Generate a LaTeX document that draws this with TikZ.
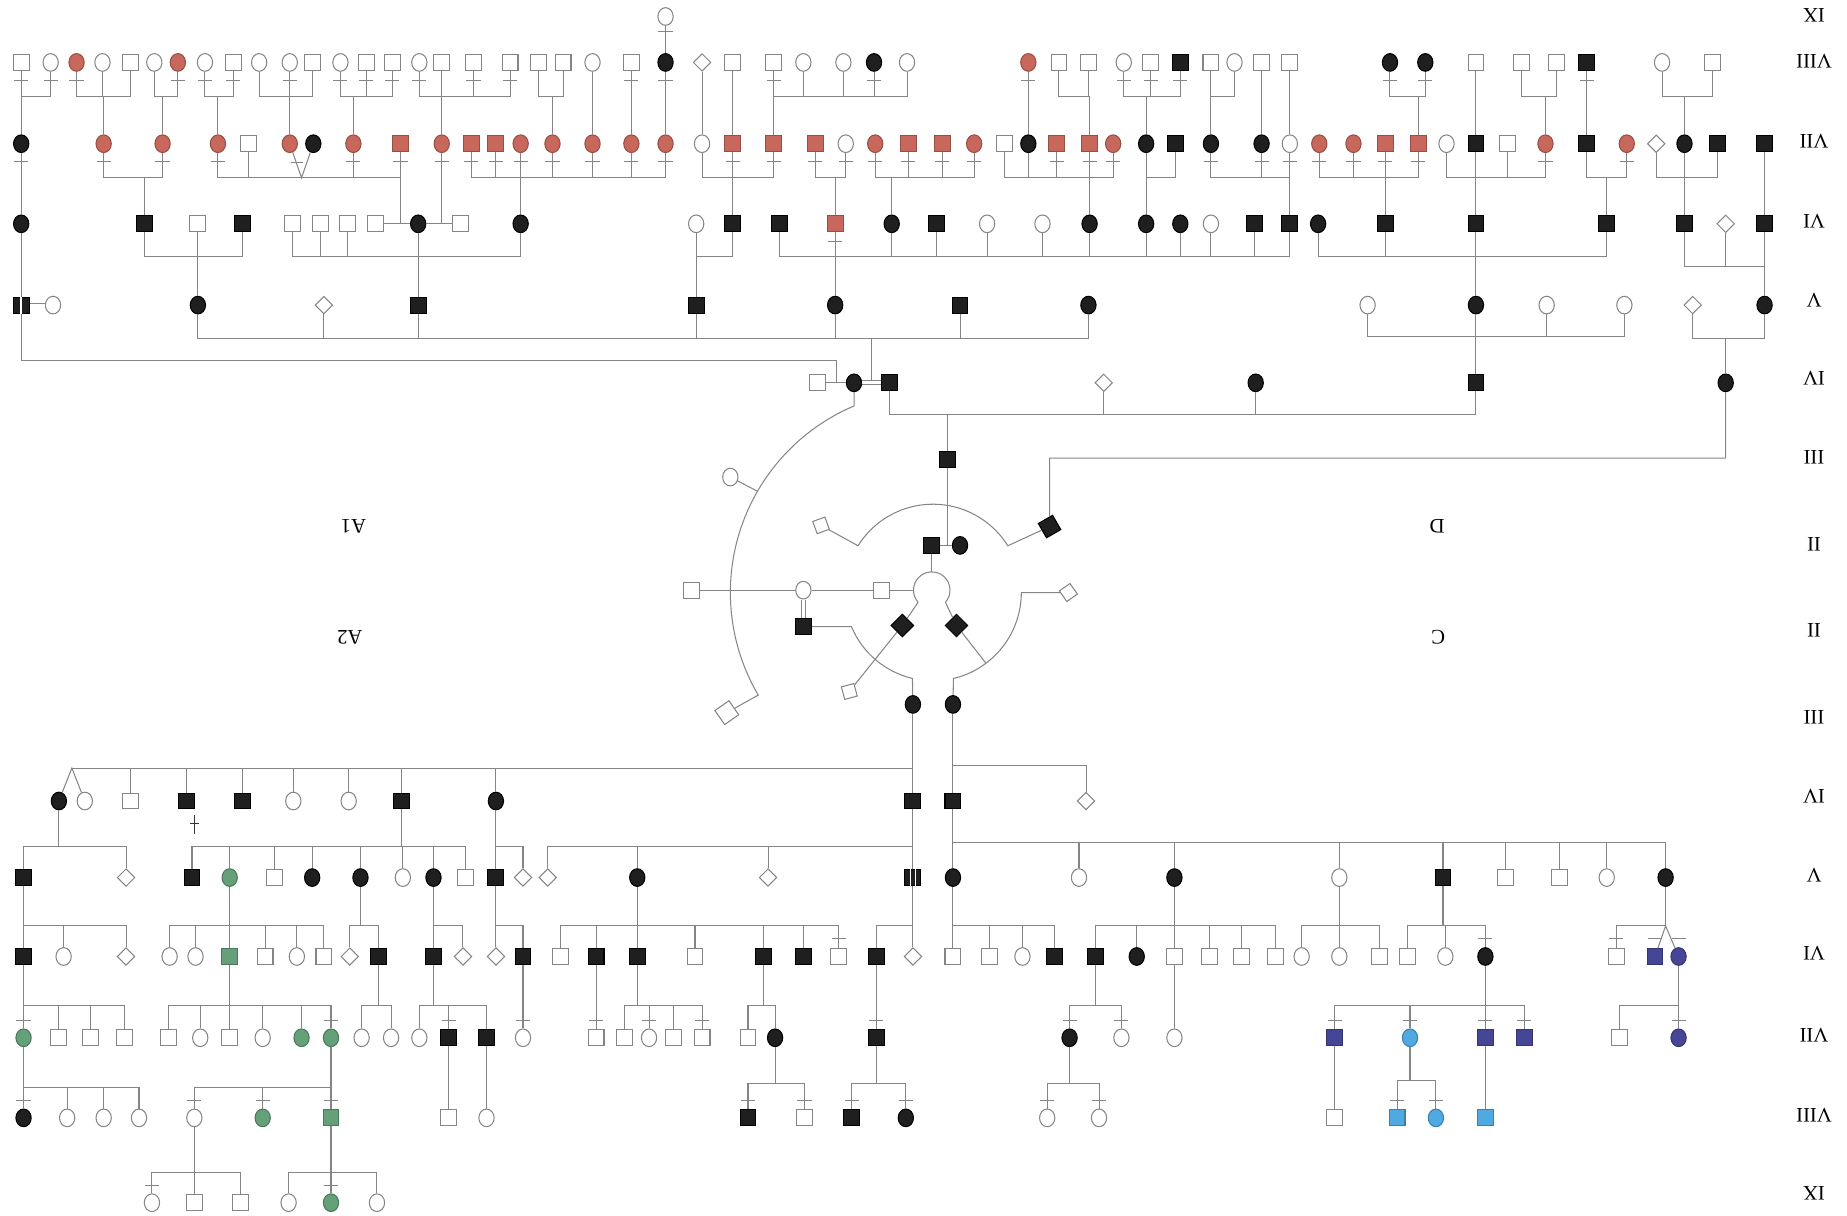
\documentclass[tikz,border=0pt]{standalone}
\usepackage{fontspec}
\setmainfont{Liberation Serif}
\usetikzlibrary{shapes.geometric}
\definecolor{lgray}{HTML}{858585}
\definecolor{redc}{HTML}{C8685C}
\definecolor{grnc}{HTML}{64A078}
\definecolor{navc}{HTML}{464696}
\definecolor{lblc}{HTML}{50AAE1}
\tikzstyle{ln} = [draw=lgray, line width=0.5pt]
\tikzstyle{dbl} = [draw=lgray, line width=0.45pt, double=white, double distance=1.4pt]
% sibship: parent, height of the bar, list of children
\newcommand{\sib}[3]{\foreach \kid in {#3}{\draw[ln] (\kid) -- (\kid |- 0,#2) -| (#1);}}

\begin{document}
\begin{tikzpicture}[
        x=0.02cm, y=-0.02cm,
        msh/.style={rectangle, minimum size=2.7mm, inner sep=0pt, line width=0.5pt},
        fsh/.style={ellipse, minimum width=2.6mm, minimum height=3mm, inner sep=0pt, line width=0.5pt},
        mo/.style={msh, draw=lgray, fill=white},
        mk/.style={msh, draw=black, fill=black!88},
        mr/.style={msh, draw=redc!75!black, fill=redc},
        mg/.style={msh, draw=grnc!75!black, fill=grnc},
        mn/.style={msh, draw=navc!75!black, fill=navc},
        ml/.style={msh, draw=lblc!75!black, fill=lblc},
        fo/.style={fsh, draw=lgray, fill=white},
        fk/.style={fsh, draw=black, fill=black!88},
        fr/.style={fsh, draw=redc!75!black, fill=redc},
        fg/.style={fsh, draw=grnc!75!black, fill=grnc},
        fn/.style={fsh, draw=navc!75!black, fill=navc},
        fl/.style={fsh, draw=lblc!75!black, fill=lblc},
        uo/.style={diamond, draw=lgray, fill=white, minimum width=3mm, minimum height=3mm, inner sep=0pt, line width=0.5pt},
        gen/.style={font=\fontsize{10}{12}\selectfont, rotate=180, inner sep=0pt},
    ]
    \useasboundingbox (0,0) rectangle (1568,1032);

    % generations
    \foreach \y/\g [count=\i] in {13/IX,52/VIII,120/VII,188/VI,255/V,321/IV,388/III,462/II,535/II,609/III,676/IV,743/V,809/VI,879/VII,947/VIII,1013/IX}
        \node[gen] (g\i) at (1540,\y) {\g};
    \node[gen] (lA1) at (300,447) {A1};
    \node[gen] (lA2) at (297,541) {A2};
    \node[gen] (lD) at (1220,447) {D};
    \node[gen] (lC) at (1221,541) {C};

    % upper half
    \node[fo] (T9-565) at (565,14) {};
    \foreach \x/\s in {18/mo,43/fo,65/fr,87/fo,111/mo,131/fo,151/fr,174/fo,198/mo,220/fo,246/fo,265/mo,289/fo,311/mo,333/mo,356/fo,375/mo,402/mo,433/mo,457/mo,478/mo,503/fo,536/mo,565/fk,596/uo,622/mo,657/mo,682/fo,716/fo,742/fk,770/fo,873/fr,899/mo,924/mo,954/fo,977/mo,1002/mk,1028/mo,1048/fo,1071/mo,1095/mo,1180/fk,1210/fk,1253/mo,1292/mo,1321/mo,1347/mk,1411/fo,1454/mo}
        \node[\s] (T8-\x) at (\x,53) {};
    \foreach \x/\s in {18/fk,88/fr,138/fr,185/fr,211/mo,246/fr,266/fk,300/fr,340/mr,375/fr,400/mr,421/mr,442/fr,469/fr,503/fr,536/fr,565/fr,596/fo,622/mr,657/mr,692/mr,718/fo,743/fr,771/mr,800/mr,827/fr,853/mo,873/fk,897/mr,925/mr,945/fr,973/fk,998/mk,1028/fk,1071/fk,1095/fo,1120/fr,1149/fr,1176/mr,1204/mr,1228/fo,1253/mk,1280/mo,1312/fr,1347/mk,1381/fr,1406/uo,1430/fk,1458/mk,1498/mk}
        \node[\s] (T7-\x) at (\x,122) {};
    \foreach \x/\s in {18/fk,123/mk,168/mo,206/mk,248/mo,272/mo,295/mo,319/mo,355/fk,391/mo,442/fk,591/fo,622/mk,662/mk,709/mr,757/fk,795/mk,838/fo,885/fo,925/fk,973/fk,1002/fk,1028/fo,1065/mk,1095/mk,1119/fk,1176/mk,1253/mk,1364/mk,1430/mk,1465/uo,1498/mk}
        \node[\s] (T6-\x) at (\x,190) {};
    \foreach \x/\s in {18/mk,45/fo,168/fk,275/uo,355/mk,591/mk,709/fk,815/mk,924/fk,1161/fo,1253/fk,1313/fo,1379/fo,1437/uo,1498/fk}
        \node[\s] (T5-\x) at (\x,259) {};
    \foreach \x/\s in {694/mo,725/fk,755/mk,937/uo,1066/fk,1253/mk,1465/fk}
        \node[\s] (T4-\x) at (\x,325) {};
    \node[mk] (T3-804) at (804,390) {};
    \node[mk] (T2-791) at (791,463) {};
    \node[fk] (T2-815) at (815,463) {};
    \node[mo, rotate=20, minimum size=2.2mm] (T2-697) at (697,446) {};
    \node[mk, rotate=30, minimum size=2.8mm] (T2-891) at (891,447) {};
    \node[fo] (O620) at (620,405) {};

    % centre
    \node[mo] (Z587) at (587,501) {};
    \node[fo] (Z682) at (682,501) {};
    \node[mo] (Z748) at (748,501) {};
    \node[mo, rotate=35, minimum size=2.2mm] (Z907) at (907,503) {};
    \node[mk] (W682) at (682,532) {};
    \node[mk, rotate=45] (W766) at (766,531) {};
    \node[mk, rotate=45] (W812) at (812,531) {};
    \node[mo, rotate=15, minimum size=2.2mm] (Q721) at (721,587) {};
    \node[mo, rotate=35, minimum size=2.9mm] (Q617) at (617,605) {};

    % lower half
    \node[fk] (B3-775) at (775,598) {};
    \node[fk] (B3-809) at (809,598) {};
    \foreach \x/\s in {50/fk,72/fo,111/mo,158/mk,206/mk,249/fo,296/fo,341/mk,421/fk,775/mk,809/mk,922/uo}
        \node[\s] (B4-\x) at (\x,680) {};
    \foreach \x/\s in {20/mk,107/uo,163/mk,195/fg,233/mo,265/fk,306/fk,342/fo,368/fk,395/mo,421/mk,444/uo,465/uo,541/fk,652/uo,775/mk,809/fk,916/fo,997/fk,1137/fo,1225/mk,1278/mo,1324/mo,1364/fo,1414/fk}
        \node[\s] (B5-\x) at (\x,745) {};
    \foreach \x/\s in {20/mk,54/fo,107/uo,144/fo,166/fo,195/mg,225/mo,252/fo,275/mo,297/uo,321/mk,368/mk,393/uo,421/uo,444/mk,476/mo,506/mk,541/mk,590/mo,648/mk,682/mk,712/mo,744/mk,775/uo,809/mo,840/mo,868/fo,895/mk,930/mk,965/fk,997/mo,1027/mo,1054/mo,1083/mo,1105/fo,1137/fo,1171/mo,1195/mo,1227/fo,1261/fk,1372/mo,1405/mn,1425/fn}
        \node[\s] (B6-\x) at (\x,812) {};
    \foreach \x/\s in {20/fg,50/mo,77/mo,106/mo,143/mo,170/fo,195/mo,223/fo,256/fg,281/fg,307/fo,332/fo,356/fo,381/mk,413/mk,444/fo,506/mo,530/mo,551/fo,572/mo,596/mo,635/mo,658/fk,744/mk,908/fk,952/fo,997/fo,1133/mn,1197/fl,1261/mn,1294/mn,1375/mo,1425/fn}
        \node[\s] (B7-\x) at (\x,881) {};
    \foreach \x/\s in {20/fk,57/fo,88/fo,118/fo,165/fo,223/fg,281/mg,381/mo,413/fo,635/mk,683/mo,723/mk,769/fk,889/fo,933/fo,1133/mo,1186/ml,1219/fl,1261/ml}
        \node[\s] (B8-\x) at (\x,949) {};
    \foreach \x/\s in {129/fo,165/mo,204/mo,245/fo,281/fg,320/fo}
        \node[\s] (B9-\x) at (\x,1021) {};

    \coordinate (tw1) at (256,151);
    \coordinate (tw2) at (61,652);
    \coordinate (tw3) at (1414,786);
    \coordinate (mA) at (340,190);
    \coordinate (mB) at (375,190);
    \coordinate (mC) at (710,325);
    \coordinate (mD) at (740,325);
    \coordinate (mE) at (804,463);

    % striped squares
    \draw[white, line width=0.7pt] (T5-18.north) -- (T5-18.south);
    \draw[white, line width=0.5pt] ([xshift=-1.3pt]B5-775.north) -- ([xshift=-1.3pt]B5-775.south)
        ([xshift=1.3pt]B5-775.north) -- ([xshift=1.3pt]B5-775.south);

    % upper lines
    \draw[ln] (T9-565) -- (T8-565);
    \sib{T7-18}{82}{T8-18,T8-43}
    \sib{T7-88}{82}{T8-65,T8-87,T8-111}
    \sib{T7-138}{82}{T8-131,T8-151}
    \sib{T7-185}{82}{T8-174,T8-198}
    \sib{T7-246}{82}{T8-220,T8-246,T8-265}
    \sib{T7-300}{82}{T8-289,T8-311,T8-333}
    \sib{T7-375}{82}{T8-356,T8-375,T8-402,T8-433}
    \sib{T7-469}{82}{T8-457,T8-478}
    \sib{T7-657}{82}{T8-657,T8-682,T8-716,T8-742,T8-770}
    \sib{T7-925}{82}{T8-899,T8-924}
    \sib{T7-973}{82}{T8-954,T8-977,T8-1002}
    \sib{T7-1028}{82}{T8-1028,T8-1048}
    \sib{T7-1204}{82}{T8-1180,T8-1210}
    \sib{T7-1312}{82}{T8-1292,T8-1321}
    \sib{T7-1430}{82}{T8-1411,T8-1454}
    \foreach \x in {503,536,565,596,622,873,1071,1095,1253,1347}
        \draw[ln] (T8-\x) -- (T7-\x);

    \draw[ln] (T7-18) -- (T6-18);
    \sib{T6-123}{151}{T7-88,T7-138}
    \sib{mA}{151}{T7-185,T7-211,T7-300,T7-340}
    \draw[ln] (T7-246) -- (tw1) -- (T7-266);
    \draw[ln] (247,138) -- (257,138);
    \draw[ln] (T7-375) -- (mB);
    \sib{T6-442}{151}{T7-400,T7-421,T7-442,T7-469,T7-503,T7-536,T7-565}
    \sib{T6-622}{151}{T7-596,T7-622,T7-657}
    \sib{T6-709}{151}{T7-692,T7-718}
    \sib{T6-757}{151}{T7-743,T7-771,T7-800,T7-827}
    \sib{T6-925}{151}{T7-853,T7-873,T7-897,T7-925,T7-945}
    \sib{T6-973}{151}{T7-973,T7-998}
    \sib{T6-1095}{151}{T7-1028,T7-1071,T7-1095}
    \sib{T6-1176}{151}{T7-1120,T7-1149,T7-1176,T7-1204}
    \sib{T6-1253}{151}{T7-1228,T7-1253,T7-1280,T7-1312}
    \sib{T6-1364}{151}{T7-1347,T7-1381}
    \sib{T6-1430}{151}{T7-1406,T7-1430,T7-1458}
    \draw[ln] (T7-1498) -- (T6-1498);

    \draw[ln] (T6-319) -- (T6-355) -- (T6-391);
    \draw[ln] (T6-18) -- (T5-18);
    \sib{T5-168}{218}{T6-123,T6-168,T6-206}
    \sib{T5-355}{218}{T6-248,T6-272,T6-295,T6-355,T6-442}
    \sib{T5-591}{218}{T6-591,T6-622}
    \sib{T5-709}{218}{T6-662,T6-709,T6-757,T6-795,T6-838,T6-885,T6-925,T6-973,T6-1002,T6-1028,T6-1065,T6-1095}
    \sib{T5-1253}{218}{T6-1119,T6-1176,T6-1253,T6-1364}
    \sib{T5-1498}{226}{T6-1430,T6-1465,T6-1498}

    \draw[dbl] (T5-18) -- (T5-45);
    \draw[ln] (T5-18) |- (mC |- 0,306) -- (mC);
    \sib{mD}{287}{T5-168,T5-275,T5-355,T5-591,T5-709,T5-815,T5-924}
    \sib{T4-1253}{286}{T5-1161,T5-1253,T5-1313,T5-1379}
    \sib{T4-1465}{287}{T5-1437,T5-1498}
    \draw[ln] (T4-694) -- (T4-725);
    \draw[dbl] (T4-725) -- (T4-755);
    \sib{T3-804}{352}{T4-755,T4-937,T4-1066,T4-1253}
    \draw[ln] (T3-804) -- (mE);
    \draw[ln] (T2-791) -- (T2-815);
    \draw[ln] (T4-1465) |- (T2-891 |- 0,389) -- (T2-891);

    % arcs round the centre
    \draw[ln] (T4-725) -- (725.1,344.6);
    \draw[ln] (725.1,344.6) arc[start angle=-112.9, end angle=-210.4, radius=172] -- (Q617);
    \draw[ln] (O620) -- (643,417);
    \draw[ln] (T2-697) -- (728.4,463.3) arc[start angle=-148, end angle=-32, radius=75] -- (T2-891);
    \draw[ln] (802.6,511.3) arc[start angle=41.6, end angle=-221.6, radius=15.5];
    \draw[ln] (T2-791) -- (791,485.5);
    \draw[ln] (Z587) -- (Z682) -- (Z748) -- (775.5,501);
    \draw[dbl] (Z682) -- (W682);
    \draw[ln] (W682) -- (722.8,532) arc[start angle=-202.75, end angle=-256.6, radius=75] -- (B3-775);
    \draw[ln] (B3-809) -- (809.4,576) arc[start angle=-283.4, end angle=-360, radius=75] -- (Z907);
    \draw[ln] (779.4,511.3) -- (W766) -- (Q721);
    \draw[ln] (802.6,511.3) -- (W812) -- (837,563);

    % lower lines
    \sib{B3-775}{652}{tw2,B4-111,B4-158,B4-206,B4-249,B4-296,B4-341,B4-421,B4-775}
    \draw[ln] (B4-50) -- (tw2) -- (B4-72);
    \sib{B3-809}{650}{B4-809,B4-922}
    \draw[black!80, line width=0.7pt] (165,692) -- (165,708) (161,699) -- (169,699);

    \sib{B4-50}{719}{B5-20,B5-107}
    \sib{B4-341}{719}{B5-163,B5-195,B5-233,B5-265,B5-306,B5-342,B5-368,B5-395}
    \sib{B4-421}{719}{B5-421,B5-444}
    \sib{B4-775}{719}{B5-465,B5-541,B5-652,B5-775}
    \sib{B4-809}{715}{B5-809,B5-916,B5-997,B5-1137,B5-1225,B5-1278,B5-1324,B5-1364,B5-1414}

    \sib{B5-20}{786}{B6-20,B6-54,B6-107}
    \sib{B5-195}{786}{B6-144,B6-166,B6-195,B6-225,B6-252,B6-275}
    \sib{B5-306}{786}{B6-297,B6-321}
    \sib{B5-368}{786}{B6-368,B6-393}
    \sib{B5-421}{786}{B6-421,B6-444}
    \sib{B5-541}{786}{B6-476,B6-506,B6-541,B6-590,B6-648,B6-682,B6-712}
    \sib{B5-775}{786}{B6-744,B6-775}
    \sib{B5-809}{786}{B6-809,B6-840,B6-868,B6-895}
    \sib{B5-997}{786}{B6-930,B6-965,B6-997,B6-1027,B6-1054,B6-1083}
    \sib{B5-1137}{786}{B6-1105,B6-1137,B6-1171}
    \sib{B5-1225}{786}{B6-1195,B6-1227,B6-1261}
    \sib{B5-1414}{786}{B6-1372,tw3}
    \draw[ln] (B6-1405) -- (tw3) -- (B6-1425);

    \sib{B6-20}{854}{B7-20,B7-50,B7-77,B7-106}
    \sib{B6-195}{854}{B7-143,B7-170,B7-195,B7-223,B7-256,B7-281}
    \sib{B6-321}{854}{B7-307,B7-332}
    \sib{B6-368}{854}{B7-356,B7-381,B7-413}
    \sib{B6-541}{854}{B7-530,B7-551,B7-572,B7-596}
    \sib{B6-648}{854}{B7-635,B7-658}
    \sib{B6-930}{854}{B7-908,B7-952}
    \sib{B6-1261}{854}{B7-1133,B7-1197,B7-1261,B7-1294}
    \sib{B6-1425}{854}{B7-1375,B7-1425}
    \foreach \x in {444,506,744,997}
        \draw[ln] (B6-\x) -- (B7-\x);

    \sib{B7-20}{923}{B8-20,B8-57,B8-88,B8-118}
    \sib{B7-281}{923}{B8-165,B8-223,B8-281}
    \sib{B7-658}{920}{B8-635,B8-683}
    \sib{B7-744}{920}{B8-723,B8-769}
    \sib{B7-908}{920}{B8-889,B8-933}
    \sib{B7-1197}{917}{B8-1186,B8-1219}
    \foreach \x in {381,413,1133,1261}
        \draw[ln] (B7-\x) -- (B8-\x);

    \sib{B8-165}{995}{B9-129,B9-165,B9-204}
    \sib{B8-281}{995}{B9-245,B9-281,B9-320}

    % ticks
    \draw[ln] (T9-565.center) ++(-6,13) -- ++(12,0);
    \foreach \n in {T8-18,T8-43,T8-65,T8-151,T8-174,T8-198,T8-246,T8-289,T8-311,T8-333,T8-356,T8-402,T8-433,T8-536,T8-565,T8-657,T8-742,T8-873,T8-954,T8-977,T8-1002,T8-1180,T8-1210,T8-1347,
                    T7-18,T7-88,T7-138,T7-185,T7-300,T7-340,T7-375,T7-400,T7-421,T7-442,T7-469,T7-503,T7-536,T7-565,T7-622,T7-657,T7-692,T7-718,T7-743,T7-771,T7-800,T7-827,T7-897,T7-925,T7-945,T7-1028,T7-1071,T7-1095,T7-1120,T7-1149,T7-1176,T7-1204,T7-1312,T7-1381,T6-709}
        \draw[ln] (\n.center) ++(-6,15) -- ++(12,0);
    \foreach \n in {B6-712,B6-1261,B6-1372,B6-1405,B6-1425,
                    B7-20,B7-281,B7-381,B7-444,B7-506,B7-551,B7-596,B7-744,B7-908,B7-952,B7-1133,B7-1197,B7-1261,B7-1294,B7-1425,
                    B8-20,B8-165,B8-223,B8-281,B8-635,B8-683,B8-723,B8-769,B8-889,B8-933,B8-1186,B8-1219,B9-129,B9-281}
        \draw[ln] (\n.center) ++(-6,-15) -- ++(12,0);
\end{tikzpicture}
\end{document}
